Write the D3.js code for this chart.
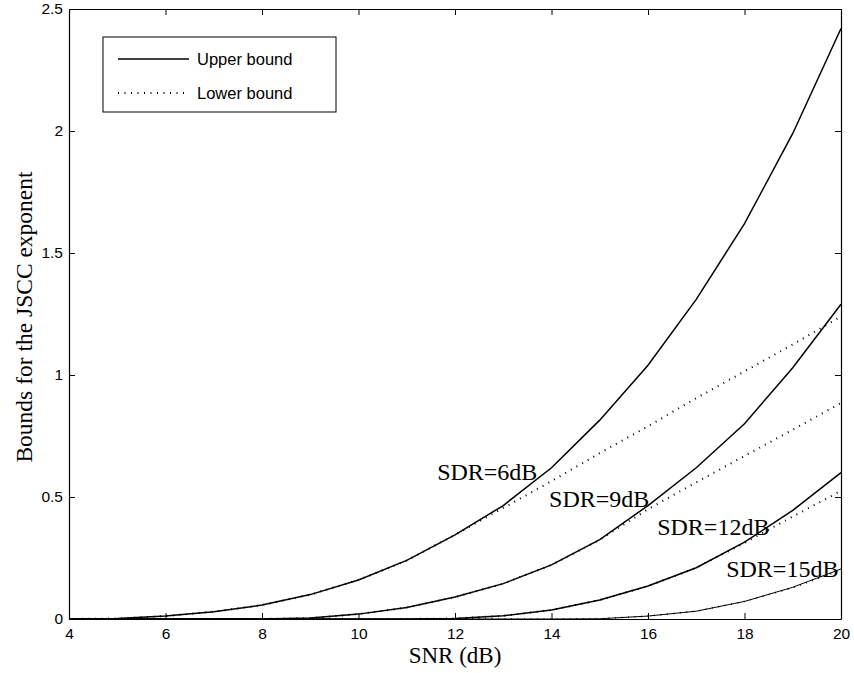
<!DOCTYPE html>
<html>
<head>
<meta charset="utf-8">
<script src="https://cdn.jsdelivr.net/npm/d3@7"></script>
<style>
  html, body { margin: 0; padding: 0; background: #fff; }
  svg { display: block; }
</style>
</head>
<body>
<svg id="chart" width="854" height="673"></svg>
<script>
// ---- data ----
const snr = [4, 5, 6, 7, 8, 9, 10, 11, 12, 13, 14, 15, 16, 17, 18, 19, 20];

const upper6  = [0, 0.002, 0.012, 0.03, 0.057, 0.1, 0.16, 0.24, 0.345, 0.465, 0.62, 0.815, 1.04, 1.31, 1.62, 1.99, 2.42];
const lower6  = [0, 0.002, 0.012, 0.03, 0.057, 0.1, 0.16, 0.24, 0.345, 0.455, 0.565, 0.68, 0.79, 0.905, 1.015, 1.125, 1.24];

const upper9  = [0, 0, 0, 0, 0, 0.004, 0.02, 0.047, 0.09, 0.145, 0.222, 0.325, 0.465, 0.62, 0.80, 1.03, 1.29];
const lower9  = [0, 0, 0, 0, 0, 0.004, 0.02, 0.047, 0.09, 0.145, 0.222, 0.325, 0.45, 0.56, 0.668, 0.776, 0.885];

const upper12 = [0, 0, 0, 0, 0, 0, 0, 0, 0.002, 0.013, 0.037, 0.078, 0.135, 0.21, 0.315, 0.445, 0.60];
const lower12 = [0, 0, 0, 0, 0, 0, 0, 0, 0.002, 0.013, 0.037, 0.078, 0.135, 0.21, 0.312, 0.42, 0.525];

const upper15 = [0, 0, 0, 0, 0, 0, 0, 0, 0, 0, 0, 0.001, 0.012, 0.032, 0.072, 0.13, 0.205];
const lower15 = [0, 0, 0, 0, 0, 0, 0, 0, 0, 0, 0, 0.001, 0.012, 0.032, 0.072, 0.128, 0.2];

const xTicks = [4, 6, 8, 10, 12, 14, 16, 18, 20];
const yTicks = [0, 0.5, 1, 1.5, 2, 2.5];
const yTickLabels = ["0", "0.5", "1", "1.5", "2", "2.5"];

const curveLabels = ["SDR=6dB", "SDR=9dB", "SDR=12dB", "SDR=15dB"];
const labelSnr = [11.63, 13.95, 16.19, 17.62];
const labelVal = [0.57, 0.459, 0.344, 0.172];

const legendLabels = ["Upper bound", "Lower bound"];

// ---- layout ----
const W = 854, H = 673;
const margin = { left: 69, top: 9, right: 13, bottom: 54 };
const x = d3.scaleLinear().domain([4, 20]).range([margin.left, W - margin.right]);
const y = d3.scaleLinear().domain([0, 2.5]).range([H - margin.bottom, margin.top]);

const svg = d3.select("#chart");
const sansFont = "'Liberation Sans', Arial, Helvetica, sans-serif";
const serifFont = "'Liberation Serif', 'Times New Roman', serif";

svg.append("rect").attr("x", 0).attr("y", 0).attr("width", W).attr("height", H).attr("fill", "#fff");

// lines
const line = d3.line().x((d, i) => x(snr[i])).y(d => y(d));
const dotted = "1,5.5";
const series = [
  { v: upper6,  dash: null, w: 1.5 },
  { v: lower6,  dash: dotted, w: 2 },
  { v: upper9,  dash: null, w: 1.5 },
  { v: lower9,  dash: dotted, w: 2 },
  { v: upper12, dash: null, w: 1.5 },
  { v: lower12, dash: dotted, w: 2 },
  { v: upper15, dash: null, w: 1 },
  { v: lower15, dash: dotted, w: 1.5 }
];
const plot = svg.append("g");
series.forEach(s => {
  plot.append("path")
    .attr("d", line(s.v))
    .attr("fill", "none")
    .attr("stroke", "#000")
    .attr("stroke-width", s.w)
    .attr("stroke-dasharray", s.dash);
});

// axes (MATLAB-style box with inward ticks)
const tickLen = 6;
const bottomAxis = d3.axisBottom(x).tickValues(xTicks).tickSizeInner(-tickLen).tickSizeOuter(0).tickPadding(9);
const topAxis = d3.axisTop(x).tickValues(xTicks).tickSizeInner(-tickLen).tickSizeOuter(0).tickFormat("");
const leftAxis = d3.axisLeft(y).tickValues(yTicks).tickSizeInner(-tickLen).tickSizeOuter(0).tickPadding(6)
  .tickFormat((d, i) => yTickLabels[i]);
const rightAxis = d3.axisRight(y).tickValues(yTicks).tickSizeInner(-tickLen).tickSizeOuter(0).tickFormat("");

function styleAxis(g) {
  g.select(".domain").attr("stroke", "#000").attr("stroke-width", 1.2);
  g.selectAll(".tick line").attr("stroke", "#000").attr("stroke-width", 1);
  g.selectAll(".tick text").attr("fill", "#000").attr("font-family", sansFont).attr("font-size", 15.5);
}
svg.append("g").attr("transform", `translate(0,${y(0)})`).call(bottomAxis).call(styleAxis);
svg.append("g").attr("transform", `translate(0,${y(2.5)})`).call(topAxis).call(styleAxis);
svg.append("g").attr("transform", `translate(${x(4)},0)`).call(leftAxis).call(styleAxis);
svg.append("g").attr("transform", `translate(${x(20)},0)`).call(rightAxis).call(styleAxis);

// curve labels
curveLabels.forEach((t, i) => {
  svg.append("text")
    .attr("x", x(labelSnr[i]))
    .attr("y", y(labelVal[i]))
    .attr("font-family", serifFont)
    .attr("font-size", 24)
    .attr("fill", "#000")
    .text(t);
});

// axis titles
svg.append("text")
  .attr("x", (x(4) + x(20)) / 2)
  .attr("y", 663)
  .attr("text-anchor", "middle")
  .attr("font-family", serifFont)
  .attr("font-size", 23)
  .text("SNR (dB)");
svg.append("text")
  .attr("transform", `translate(32,${(y(0) + y(2.5)) / 2 + 3}) rotate(-90)`)
  .attr("text-anchor", "middle")
  .attr("font-family", serifFont)
  .attr("font-size", 23.5)
  .text("Bounds for the JSCC exponent");

// legend
const lg = svg.append("g").attr("transform", "translate(103,37)");
lg.append("rect").attr("width", 233).attr("height", 75)
  .attr("fill", "#fff").attr("stroke", "#000").attr("stroke-width", 1);
legendLabels.forEach((t, i) => {
  const ly = 22 + i * 34;
  lg.append("line").attr("x1", 15).attr("x2", 86).attr("y1", ly).attr("y2", ly)
    .attr("stroke", "#000").attr("stroke-width", i === 0 ? 1.5 : 2)
    .attr("stroke-dasharray", i === 0 ? null : dotted);
  lg.append("text").attr("x", 94).attr("y", ly).attr("dy", "0.35em")
    .attr("font-family", sansFont).attr("font-size", 16.5).attr("fill", "#000").text(t);
});
</script>
</body>
</html>
